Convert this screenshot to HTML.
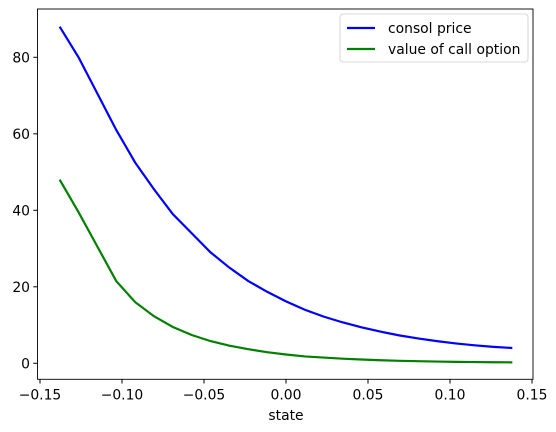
<!DOCTYPE html>
<html><head><meta charset="utf-8"><style>
html,body{margin:0;padding:0;background:#fff;}
svg{display:block;font-family:"DejaVu Sans","Liberation Sans",sans-serif;}
</style></head><body>
<svg id="chart" width="556" height="432" viewBox="0 0 556 432">
<rect x="37.5" y="9" width="495.5" height="370.3" fill="none" stroke="#000" stroke-width="0.9"/>
<g id="xticks"></g>
<g id="yticks"></g>
<text x="286" y="420" font-size="13.9" text-anchor="middle">state</text>
<g id="series"></g>
<g>
<rect x="340" y="14" width="188" height="48" rx="3" fill="#fff" stroke="#ccc" stroke-width="0.8"/>
<line x1="347" y1="28" x2="375" y2="28" stroke="#0000ff" stroke-width="2.2"/>
<text x="388" y="33" font-size="13.9">consol price</text>
<line x1="347" y1="49" x2="375" y2="49" stroke="#008000" stroke-width="2.2"/>
<text x="388" y="54" font-size="13.9">value of call option</text>
</g>
</svg>
<script>
const states = [-0.138,-0.1265,-0.115,-0.1035,-0.092,-0.0805,-0.069,-0.0575,-0.046,-0.0345,-0.023,-0.0115,0,0.0115,0.023,0.0345,0.046,0.0575,0.069,0.0805,0.092,0.1035,0.115,0.1265,0.138];
const consol = [88,80,70.5,61,52.5,45.5,39,34,29,25,21.5,18.7,16.2,14,12.2,10.7,9.4,8.3,7.3,6.5,5.8,5.2,4.7,4.3,4.0];
const callOpt = [48,39.5,30.5,21.5,16,12.3,9.5,7.4,5.8,4.6,3.7,2.9,2.3,1.8,1.5,1.2,1.0,0.8,0.65,0.55,0.45,0.38,0.32,0.28,0.25];
const xTicks = [-0.15,-0.10,-0.05,0.00,0.05,0.10,0.15];
const xTickLabels = ["−0.15","−0.10","−0.05","0.00","0.05","0.10","0.15"];
const yTicks = [0,20,40,60,80];
const NS="http://www.w3.org/2000/svg";
const xs = v => 286 + v*1640;
const ys = v => 363.3 - v*3.825;
const xg=document.getElementById('xticks'), yg=document.getElementById('yticks'), sg=document.getElementById('series');
xTicks.forEach((t,i)=>{
  const l=document.createElementNS(NS,'line');
  l.setAttribute('x1',xs(t));l.setAttribute('x2',xs(t));l.setAttribute('y1',379.3);l.setAttribute('y2',383.5);l.setAttribute('stroke','#000');
  
  
  xg.appendChild(l);
  const tx=document.createElementNS(NS,'text');
  tx.setAttribute('x',xs(t));tx.setAttribute('y',399.5);tx.setAttribute('font-size','13.9');tx.setAttribute('text-anchor','middle');
  tx.textContent=xTickLabels[i];
  
  
  xg.appendChild(tx);
});
yTicks.forEach(t=>{
  const l=document.createElementNS(NS,'line');
  l.setAttribute('x1',33.3);l.setAttribute('x2',37.5);l.setAttribute('y1',ys(t));l.setAttribute('y2',ys(t));l.setAttribute('stroke','#000');
  
  
  yg.appendChild(l);
  const tx=document.createElementNS(NS,'text');
  tx.setAttribute('x',30);tx.setAttribute('y',ys(t)+5);tx.setAttribute('font-size','13.9');tx.setAttribute('text-anchor','end');
  tx.textContent=t;
  
  
  yg.appendChild(tx);
});
function line(vals,color,name){
  const p=document.createElementNS(NS,'polyline');
  p.setAttribute('points',vals.map((v,i)=>xs(states[i])+','+ys(v)).join(' '));
  p.setAttribute('fill','none');p.setAttribute('stroke',color);p.setAttribute('stroke-width','2.2');
  
  
  sg.appendChild(p);
}
line(consol,'#0000ff','consol-price-line');
line(callOpt,'#008000','call-option-line');
</script>
</body></html>
